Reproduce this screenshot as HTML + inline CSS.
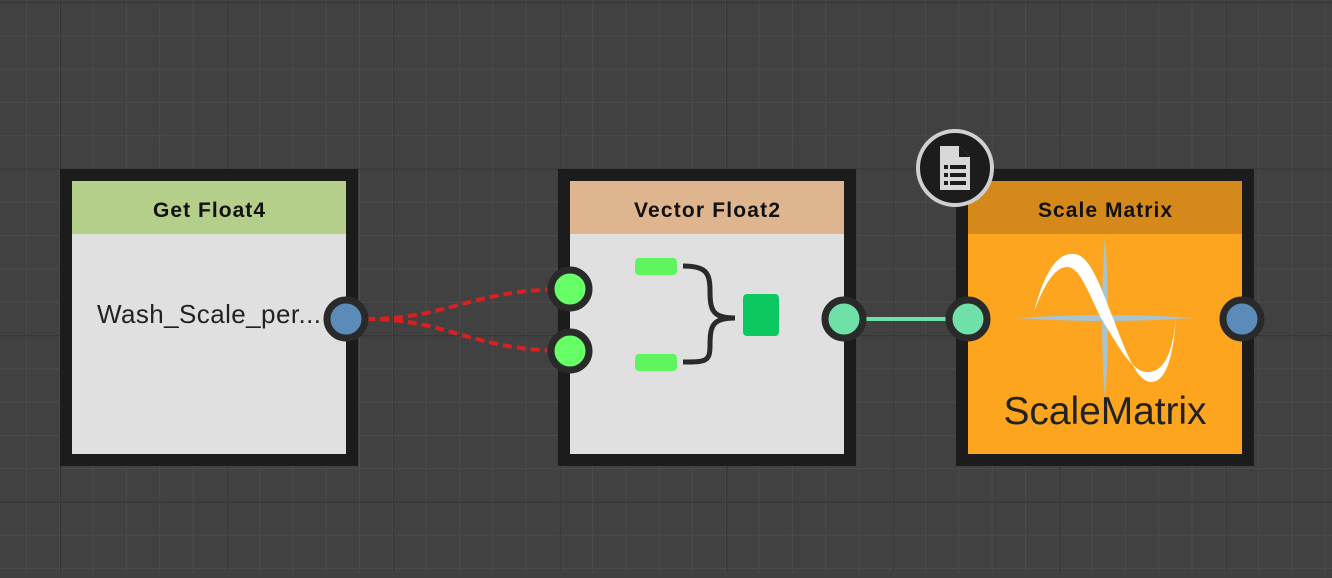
<!DOCTYPE html>
<html><head><style>
body{margin:0;width:1332px;height:573px;overflow:hidden;background:#404040;font-family:"Liberation Sans",sans-serif}
</style></head><body>
<svg width="1332" height="573" xmlns="http://www.w3.org/2000/svg">
<defs>
<pattern id="g" width="33.3" height="33.3" patternUnits="userSpaceOnUse" x="26" y="2">
<path d="M0 0H33.3M0 0V33.3" stroke="#4b4b4b" stroke-width="2" fill="none"/>
</pattern>
<pattern id="g2" width="166.5" height="166.5" patternUnits="userSpaceOnUse" x="60" y="2">
<path d="M0 0H166.5M0 0V166.5" stroke="#373737" stroke-width="2.5" fill="none"/>
</pattern>
</defs>
<rect width="1332" height="573" fill="#414141"/>
<rect width="1332" height="573" fill="url(#g)"/>
<rect width="1332" height="573" fill="url(#g2)"/>

<!-- Node 1 -->
<rect x="60" y="169" width="298" height="297" fill="#1c1c1c"/>
<rect x="72" y="181" width="274" height="273" fill="#e0e0e0"/>
<rect x="72" y="181" width="274" height="53" fill="#b4cf8a"/>
<text x="209" y="217" text-anchor="middle" font-weight="bold" font-size="21" fill="#111" textLength="112">Get Float4</text>
<text x="97" y="323" font-size="26" fill="#222" textLength="224">Wash_Scale_per...</text>

<!-- Node 2 -->
<rect x="558" y="169" width="298" height="297" fill="#1c1c1c"/>
<rect x="570" y="181" width="274" height="273" fill="#e0e0e0"/>
<rect x="570" y="181" width="274" height="53" fill="#dfb58f"/>
<text x="707" y="217" text-anchor="middle" font-weight="bold" font-size="21" fill="#111" textLength="146">Vector Float2</text>
<rect x="635" y="258" width="42" height="17" rx="4" fill="#5ef55e"/>
<rect x="635" y="354" width="42" height="17" rx="4" fill="#5ef55e"/>
<path d="M683 266 C705 266 710 272 710 290 C710 310 712 318 735 318 C712 318 710 326 710 346 C710 362 705 362 683 362" stroke="#2a2a2a" stroke-width="5" fill="none"/>
<rect x="743" y="294" width="36" height="42" rx="4" fill="#0cc860"/>

<!-- Node 3 -->
<rect x="956" y="169" width="298" height="297" fill="#1c1c1c"/>
<rect x="968" y="181" width="274" height="273" fill="#fda51f"/>
<rect x="968" y="181" width="274" height="53" fill="#d4891a"/>
<text x="1105" y="217" text-anchor="middle" font-weight="bold" font-size="21" fill="#111" textLength="134">Scale Matrix</text>
<path d="M1017 318 Q1105 312 1193 318 Q1105 324 1017 318Z" fill="#a8c4d0"/>
<path d="M1105 236 Q1111 318 1105 400 Q1099 318 1105 236Z" fill="#a8c4d0"/>
<path d="M1034 312 C1046 266 1060 252 1075 254 C1090 256 1100 285 1113 318 C1126 352 1136 380 1150 382 C1165 383 1173 360 1176 318 C1172 358 1162 373 1146 372 C1130 370 1118 345 1101 318 C1088 292 1080 268 1068 267 C1055 266 1044 285 1034 312Z" fill="#fff"/>
<text x="1105" y="424" text-anchor="middle" font-size="39" fill="#222" textLength="203">ScaleMatrix</text>

<!-- doc icon -->
<circle cx="955" cy="168" r="37" fill="#1c1c1c" stroke="#d0d0d0" stroke-width="4"/>
<path d="M940 146 H959 L970 157 V190 H940Z" fill="#d8d8d8"/>
<path d="M959 146 V157 H970" fill="#1c1c1c"/>
<g fill="#1c1c1c"><rect x="944" y="165" width="4" height="4"/><rect x="950" y="165" width="16" height="4"/><rect x="944" y="173" width="4" height="4"/><rect x="950" y="173" width="16" height="4"/><rect x="944" y="181" width="4" height="4"/><rect x="950" y="181" width="16" height="4"/></g>

<!-- connectors -->
<path d="M366 319 C450 319 470 289 570 289" stroke="#d92020" stroke-width="4" stroke-dasharray="9 5" fill="none"/>
<path d="M366 319 C450 319 470 351 570 351" stroke="#d92020" stroke-width="4" stroke-dasharray="9 5" fill="none"/>
<line x1="864" y1="319" x2="948" y2="319" stroke="#6fe0a8" stroke-width="4"/>

<!-- ports -->
<g stroke="#2a2a2a" stroke-width="7">
<circle cx="346" cy="319" r="19" fill="#5b8bb8"/>
<circle cx="570" cy="289" r="19" fill="#66ff66"/>
<circle cx="570" cy="351" r="19" fill="#66ff66"/>
<circle cx="844" cy="319" r="19" fill="#6fe0a8"/>
<circle cx="968" cy="319" r="19" fill="#6fe0a8"/>
<circle cx="1242" cy="319" r="19" fill="#5b8bb8"/>
</g>
</svg>
</body></html>
